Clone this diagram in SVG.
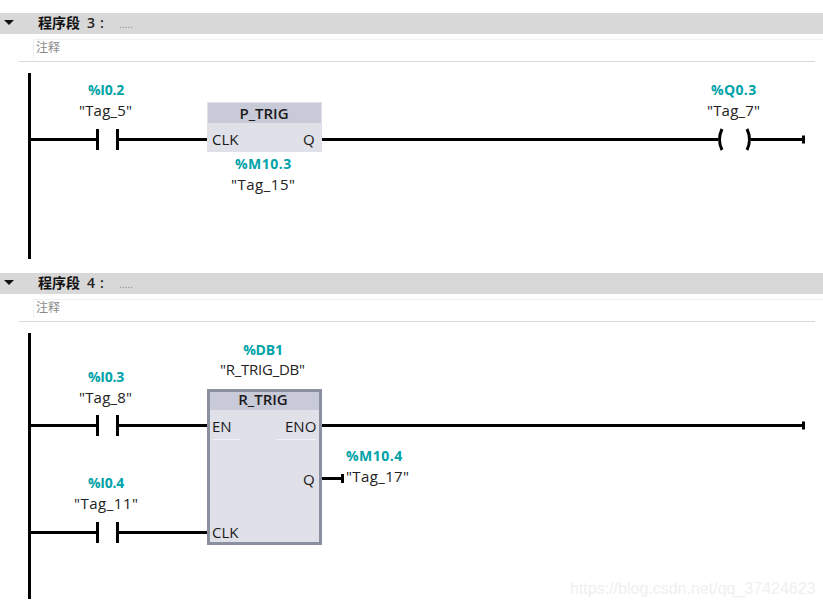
<svg xmlns="http://www.w3.org/2000/svg" width="823" height="607" viewBox="0 0 823 607">
<style>
text{font-family:"Open Sans","Noto Sans","Noto Sans CJK SC",sans-serif}
.hdr{fill:#d8d8d8}
.tri{fill:#111}
.ttl{font-family:"Noto Sans CJK SC",sans-serif;font-size:14px;font-weight:700;fill:#111}
.num{font-size:14px;font-weight:600;fill:#222}
.dots{font-size:10px;fill:#888;font-family:"Liberation Sans",sans-serif}
.cm{font-family:"Noto Sans CJK SC",sans-serif;font-size:12px;fill:#8a8a8a}
.addr{font-size:14px;font-weight:700;fill:#00a3a8;text-anchor:middle;font-family:"Open Sans",sans-serif;letter-spacing:-.2px}
.tag{font-size:15px;fill:#222;text-anchor:middle}
.pin{font-size:15px;fill:#1a1a1a}
.bt{font-size:15px;font-weight:600;fill:#1a1a1a;text-anchor:middle}
.w{stroke:#000;stroke-width:3;fill:none}
.mark{font-family:"Liberation Sans",sans-serif;font-size:16px;fill:#f0f0f0}
.c1{fill:#fff;stroke:#efeff2;stroke-width:1}
.rule{stroke:#d8d8e0;stroke-width:1}
</style>
<rect width="823" height="607" fill="#fff"/>
<g id="network3-header">
<rect class="hdr" y="13" width="823" height="21"/>
<path class="tri" d="M4 20h10l-5 5z"/>
<text class="ttl" x="38" y="28">程序段</text>
<text class="num" x="87" y="28">3</text>
<text class="num" x="100" y="28">:</text>
<text class="dots" x="119" y="28">.....</text>
<path d="M33.500 40V58M33.500 39.500H823" class="c1"/>
<text class="cm" x="36" y="52">注释</text>
<line class="rule" x1="19" y1="61.500" x2="815" y2="61.500"/>
</g>
<g id="network4-header">
<rect class="hdr" y="273" width="823" height="21"/>
<path class="tri" d="M4 280h10l-5 5z"/>
<text class="ttl" x="38" y="288">程序段</text>
<text class="num" x="87" y="288">4</text>
<text class="num" x="100" y="288">:</text>
<text class="dots" x="119" y="288">.....</text>
<path d="M33.500 300V318M33.500 299.500H823" class="c1"/>
<text class="cm" x="36" y="312">注释</text>
<line class="rule" x1="19" y1="321.500" x2="815" y2="321.500"/>
</g>
<g id="connectors">
<path class="w" d="M29.500 73V259M29.500 333V599"/>
<path class="w" d="M30 139.500H97M97.500 129V150M117.500 129V150M118 139.500H207M322 139.500H718M751 139.500H804"/>
<path class="w" d="M803.500 135.500V143.500"/>
<path class="w" d="M722 129Q717 139.500 722 150M747 129Q752 139.500 747 150"/>
<path class="w" d="M30 425.500H97M97.500 415V436M117.500 415V436M118 425.500H207M322 425.500H804M803.500 421.500V429.500"/>
<path class="w" d="M30 532.500H97M97.500 522V543M117.500 522V543M118 532.500H207"/>
<path class="w" d="M322 478.500H343M342.500 474V483"/>
</g>
<g id="contact-I02"><text class="addr" x="106" y="95">%I0.2</text><text class="tag" x="105.500" y="116" textLength="53">"Tag_5"</text></g>
<g id="coil-Q03"><text class="addr" x="733.500" y="95" textLength="45">%Q0.3</text><text class="tag" x="733.500" y="116" textLength="53">"Tag_7"</text></g>
<g id="p-trig">
<rect x="207" y="102" width="115" height="50" fill="#e0e0e8"/>
<rect x="208" y="103" width="113" height="20" fill="#c8cad8"/>
<text class="bt" x="264" y="119">P_TRIG</text>
<text class="pin" x="212" y="145">CLK</text>
<text class="pin" x="303" y="145">Q</text>
<text class="addr" x="263" y="169" textLength="56">%M10.3</text>
<text class="tag" x="263" y="190" textLength="64">"Tag_15"</text>
</g>
<g id="contact-I03"><text class="addr" x="106" y="382">%I0.3</text><text class="tag" x="105.500" y="403" textLength="53">"Tag_8"</text></g>
<g id="contact-I04"><text class="addr" x="106" y="488">%I0.4</text><text class="tag" x="106" y="509" textLength="64">"Tag_11"</text></g>
<g id="r-trig">
<text class="addr" x="263" y="355">%DB1</text>
<text class="tag" x="262.500" y="375" textLength="85">"R_TRIG_DB"</text>
<rect x="208.500" y="390.500" width="112" height="153" fill="#e0e0e8" stroke="#8a90a0" stroke-width="3"/>
<rect x="210" y="392" width="109" height="18" fill="#c8cad8"/>
<text class="bt" x="263" y="405">R_TRIG</text>
<text class="pin" x="212" y="432">EN</text>
<text class="pin" x="285" y="432">ENO</text>
<path d="M213 439.500H240M277 439.500H316" stroke="#f4f4f8" stroke-width="1"/>
<text class="pin" x="303" y="485">Q</text>
<text class="pin" x="212" y="538">CLK</text>
</g>
<g id="output-M104"><text class="addr" x="374" y="461" textLength="56">%M10.4</text><text class="tag" x="377.500" y="482" textLength="63">"Tag_17"</text></g>
<text class="mark" x="570" y="594">https://blog.csdn.net/qq_37424623</text>
</svg>
